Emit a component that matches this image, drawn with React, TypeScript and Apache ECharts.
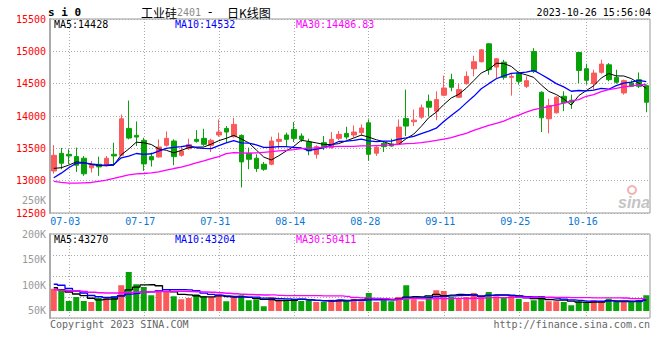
import React, { useEffect, useRef } from 'react';
import * as echarts from 'echarts';

const dates = [
  '06-29', '06-30',
  '07-03', '07-04', '07-05', '07-06', '07-07', '07-10', '07-11', '07-12', '07-13', '07-14',
  '07-17', '07-18', '07-19', '07-20', '07-21', '07-24', '07-25', '07-26', '07-27', '07-28', '07-31',
  '08-01', '08-02', '08-03', '08-04', '08-07', '08-08', '08-09', '08-10', '08-11', '08-14', '08-15',
  '08-16', '08-17', '08-18', '08-21', '08-22', '08-23', '08-24', '08-25', '08-28', '08-29', '08-30', '08-31',
  '09-01', '09-04', '09-05', '09-06', '09-07', '09-08', '09-11', '09-12', '09-13', '09-14', '09-15',
  '09-18', '09-19', '09-20', '09-21', '09-22', '09-25', '09-26', '09-27', '09-28',
  '10-09', '10-10', '10-11', '10-12', '10-13', '10-16', '10-17', '10-18', '10-19', '10-20',
  '10-23', '10-24', '10-25', '10-26',
];
const labelDates = ['07-03', '07-17', '07-31', '08-14', '08-28', '09-11', '09-25', '10-16'];

const opens = [
  13150, 13423, 13408, 13372, 13347, 13198, 13254, 13239, 13408, 13393,
  13808, 13700, 13623, 13372, 13367, 13547, 13613, 13393, 13495, 13639,
  13654, 13547, 13706, 13808, 13680, 13700, 13424, 13347, 13254, 13254,
  13608, 13706, 13793, 13690, 13598, 13408, 13588, 13511, 13654, 13731,
  13706, 13742, 13895, 13424, 13578, 13567, 13578, 13962, 13911, 13982,
  14228, 14075, 14321, 14562, 14290, 14500, 14731, 14839, 15116, 14757,
  14833, 14598, 14664, 14459, 14998, 14367, 13957, 14049, 14305, 14244,
  14982, 14731, 14500, 14675, 14792, 14598, 14357, 14510, 14562, 14469,
];
const closes = [
  13392, 13270, 13382, 13239, 13106, 13239, 13213, 13347, 13382, 13957,
  13659, 13675, 13259, 13321, 13521, 13654, 13372, 13459, 13557, 13608,
  13562, 13623, 13752, 13752, 13870, 13290, 13331, 13188, 13177, 13613,
  13639, 13639, 13654, 13639, 13460, 13526, 13526, 13639, 13716, 13675,
  13752, 13813, 13408, 13516, 13526, 13536, 13829, 13844, 13936, 14126,
  14136, 14254, 14433, 14444, 14408, 14613, 14839, 15023, 14715, 14885,
  14598, 14613, 14536, 14546, 14690, 13972, 14162, 14290, 14203, 14213,
  14705, 14552, 14664, 14803, 14562, 14521, 14546, 14459, 14459, 14213,
];
const lows = [
  13110, 13177, 13254, 13136, 13075, 13126, 13075, 13218, 13229, 13382,
  13639, 13536, 13152, 13218, 13357, 13526, 13239, 13372, 13475, 13588,
  13536, 13444, 13680, 13588, 13665, 12895, 13177, 13136, 13152, 13239,
  13485, 13536, 13598, 13598, 13393, 13342, 13475, 13495, 13629, 13639,
  13665, 13690, 13306, 13383, 13444, 13526, 13567, 13690, 13844, 13957,
  13998, 13936, 14305, 14382, 14280, 14485, 14613, 14828, 14639, 14587,
  14562, 14315, 14485, 14433, 14664, 13752, 13731, 14039, 14075, 14111,
  14510, 14485, 14408, 14654, 14536, 14500, 14331, 14449, 14433, 14059,
];
const highs = [
  13550, 13506, 13485, 13511, 13382, 13305, 13372, 13382, 13587, 14023,
  14239, 13916, 13664, 13434, 13639, 13762, 13639, 13536, 13649, 13782,
  13803, 13649, 13947, 13844, 13972, 13716, 13511, 13408, 13290, 13680,
  13742, 13742, 13906, 13731, 13649, 13547, 13690, 13752, 13767, 13834,
  13854, 13870, 13947, 13547, 13613, 13649, 13947, 14408, 14100, 14177,
  14331, 14382, 14623, 14654, 14500, 14690, 14931, 15034, 15126, 14895,
  14869, 14654, 14690, 14613, 15049, 14382, 14264, 14305, 14382, 14331,
  14982, 14808, 14715, 14869, 14818, 14715, 14562, 14551, 14674, 14485,
];
const ma5 = [
  13190, 13200, 13240, 13290, 13280, 13250, 13235, 13230, 13240, 13400,
  13490, 13595, 13586, 13560, 13490, 13470, 13430, 13468, 13512, 13520,
  13520, 13565, 13618, 13655, 13700, 13645, 13585, 13475, 13365, 13320,
  13385, 13460, 13530, 13625, 13606, 13584, 13561, 13558, 13573, 13616,
  13660, 13705, 13673, 13633, 13603, 13560, 13563, 13650, 13720, 13840,
  13974, 14059, 14177, 14279, 14335, 14430, 14547, 14665, 14720, 14815,
  14812, 14767, 14669, 14636, 14597, 14480, 14381, 14332, 14263, 14168,
  14315, 14393, 14467, 14587, 14657, 14620, 14619, 14578, 14509, 14428,
];
const ma10 = [
  13044, 13116, 13200, 13270, 13275, 13258, 13245, 13240, 13250, 13353,
  13380, 13420, 13408, 13416, 13458, 13499, 13515, 13526, 13544, 13509,
  13499, 13494, 13543, 13586, 13621, 13585, 13581, 13554, 13516, 13517,
  13525, 13526, 13516, 13505, 13464, 13488, 13507, 13552, 13606, 13612,
  13623, 13641, 13616, 13604, 13611, 13612, 13642, 13662, 13684, 13729,
  13767, 13811, 13914, 14007, 14095, 14203, 14304, 14422, 14500, 14576,
  14622, 14658, 14668, 14678, 14706, 14642, 14574, 14501, 14450, 14383,
  14394, 14388, 14401, 14427, 14414, 14469, 14507, 14524, 14550, 14532,
];
const ma30 = [
  12988, 12972, 12962, 12962, 12967, 12972, 12988, 13008, 13034, 13064,
  13090, 13106, 13111, 13121, 13136, 13162, 13188, 13208, 13239, 13275,
  13306, 13342, 13372, 13418, 13434, 13429, 13424, 13429, 13439, 13449,
  13460, 13470, 13480, 13496, 13501, 13506, 13516, 13526, 13531, 13531,
  13531, 13537, 13537, 13542, 13547, 13552, 13562, 13572, 13577, 13587,
  13603, 13623, 13644, 13664, 13700, 13731, 13777, 13818, 13854, 13885,
  13921, 13972, 14013, 14059, 14100, 14121, 14146, 14172, 14198, 14234,
  14254, 14305, 14331, 14377, 14408, 14428, 14449, 14464, 14480, 14487,
];
// volumes, in thousands
const volumesK = [
  89, 83, 40, 56, 40, 36, 52, 53, 59, 103,
  156, 107, 96, 63, 83, 80, 59, 47, 52, 67,
  59, 56, 67, 39, 59, 63, 43, 47, 19, 56,
  45, 45, 49, 40, 43, 36, 36, 45, 45, 43,
  49, 39, 72, 36, 43, 39, 56, 103, 47, 39,
  59, 83, 80, 56, 52, 56, 72, 56, 76, 59,
  56, 63, 49, 36, 43, 59, 39, 39, 36, 23,
  39, 36, 43, 39, 49, 36, 36, 36, 43, 63,
];
const volMa5K = [
  93, 85, 76, 68, 61.6, 51, 44.8, 47.4, 48, 60.6,
  84.6, 95.6, 104.2, 105, 101, 85.8, 76.2, 66.4, 64.2, 61,
  56.8, 56.2, 60.2, 57.6, 56, 56.8, 54.2, 50.2, 46.2, 45.6,
  42, 42.4, 42.8, 47, 44.4, 42.6, 40.8, 40, 41, 41,
  43.6, 44.2, 49.6, 47.8, 47.8, 45.8, 49.2, 55.4, 57.6, 56.8,
  60.8, 66.2, 61.6, 63.4, 66, 65.4, 63.2, 58.4, 62.4, 63.8,
  63.8, 62, 60.6, 52.6, 49.4, 50, 45.2, 43.2, 43.2, 39.2,
  35.2, 34.6, 35.4, 36, 41.2, 40.6, 40.6, 39.2, 40, 43.3,
];
const volMa10K = [
  107, 103, 90, 80, 72, 62, 57, 54, 56, 61.1,
  67.8, 70.2, 75.8, 76.5, 80.8, 85.2, 85.9, 85.3, 84.6, 81,
  71.3, 66.2, 63.3, 60.9, 58.5, 56.8, 55.2, 55.2, 51.9, 50.8,
  49.4, 48.3, 46.5, 46.6, 45, 42.3, 41.6, 41.4, 44, 42.7,
  43.1, 42.5, 44.8, 44.4, 44.4, 44.7, 46.7, 52.5, 52.7, 52.3,
  53.3, 57.7, 58.5, 60.5, 61.4, 63.1, 64.7, 60, 62.9, 64.9,
  64.6, 62.6, 59.5, 57.5, 56.6, 56.9, 53.6, 51.9, 47.9, 44.3,
  42.6, 39.9, 39.3, 39.6, 40.2, 37.9, 37.6, 37.3, 38, 43.2,
];
const volMa30K = [
  85, 83, 81, 80, 78, 75, 73, 72, 72, 73,
  74, 75, 76, 77, 78, 78, 79, 79, 78, 77,
  76, 75, 73, 71, 69, 67, 66, 65, 64, 64.3,
  62.8, 61.6, 61.9, 61.3, 61.4, 61.4, 60.9, 60.6, 60.2, 58.2,
  54.6, 52.3, 51.5, 50.6, 49.3, 47.9, 47.8, 49.7, 49.5, 48.6,
  48.6, 49.5, 49.9, 50.5, 50.3, 50, 51, 51.3, 53.2, 53.3,
  53.7, 54.3, 54.3, 54.1, 54.1, 54.9, 55, 54.8, 54.5, 53.8,
  53.5, 53.4, 52.4, 52.5, 52.7, 52.6, 52, 49.7, 49.6, 50.4,
];
const volTickValues = [50000, 100000, 150000, 200000];
const extraVolLabel = '250K';

const titleCode = 's i 0';
const titleName = '工业硅';
const titleContract = '2401';
const titleKind = '日K线图';
const timestamp = '2023-10-26 15:56:04';
const priceLegend = ['MA5:14428', 'MA10:14532', 'MA30:14486.83'];
const volLegend = ['MA5:43270', 'MA10:43204', 'MA30:50411'];
const footLeft = 'Copyright 2023 SINA.COM';
const footRight = 'http://finance.sina.com.cn';

const UP = '#fa5a5a';
const DOWN = '#08a208';
const MONO = '"DejaVu Sans Mono", monospace';
const GRIDC = '#aaaaaa';

export default function App() {
  const ref = useRef<HTMLDivElement>(null);
  useEffect(() => {
    document.body.style.margin = '0';
    const chart = echarts.init(ref.current!, null, { renderer: 'svg' });
    const showIdx = (i: number) => labelDates.includes(dates[i]);
    const candleData = dates.map((_, i) => [opens[i], closes[i], lows[i], highs[i]]);
    const volData = volumesK.map((v, i) => ({
      value: v * 1000,
      itemStyle: { color: closes[i] >= opens[i] ? UP : DOWN },
    }));
    const k = (a: number[]) => a.map((v) => v * 1000);
    const dotted = { color: GRIDC, type: [1, 2] as any, width: 1 };
    const lineS = (name: string, data: number[], color: string, w: number, xi: number, step?: any) => ({
      name, type: 'line', data, xAxisIndex: xi, yAxisIndex: xi, symbol: 'none', step: step || false,
      lineStyle: { color, width: w }, itemStyle: { color }, silent: true,
    });
    const legendText = (x: number, y: number, text: string, fill: string) => ({
      type: 'text', x, y, silent: true,
      style: { text, font: `10px ${MONO}`, fill, verticalAlign: 'middle' },
    });
    const legendColors = ['#000000', '#0000ff', '#ff00ff'];
    const legendX = [54, 175, 296];

    chart.setOption({
      animation: false,
      backgroundColor: '#ffffff',
      grid: [
        { left: 50, right: 10, top: 19, height: 194, show: true, borderColor: '#999', borderWidth: 1, outerBoundsMode: 'none' },
        { left: 50, right: 10, top: 234, height: 84, show: true, borderColor: '#999', borderWidth: 1, outerBoundsMode: 'none' },
      ],
      xAxis: [
        {
          type: 'category', gridIndex: 0, data: dates, boundaryGap: true,
          axisLine: { show: false }, axisTick: { show: false },
          axisLabel: { interval: (i: number) => showIdx(i), color: '#0a78d2', fontFamily: MONO, fontSize: 10, margin: 3, padding: [0, 7, 0, 0] },
          splitLine: { show: true, interval: (i: number) => showIdx(i), alignWithLabel: true, lineStyle: dotted },
        },
        {
          type: 'category', gridIndex: 1, data: dates, boundaryGap: true,
          axisLine: { show: false }, axisTick: { show: false }, axisLabel: { show: false },
          splitLine: { show: true, interval: (i: number) => showIdx(i), alignWithLabel: true, lineStyle: dotted },
        },
      ],
      yAxis: [
        {
          type: 'value', gridIndex: 0, min: 12500, max: 15500, interval: 500, position: 'left',
          axisLine: { show: true, lineStyle: { color: '#aaa', width: 2 } }, axisTick: { show: false },
          axisLabel: { color: '#ff0000', fontFamily: MONO, fontSize: 10, margin: 4, formatter: (v: number) => String(v) },
          splitLine: { show: true, lineStyle: dotted },
        },
        {
          type: 'value', gridIndex: 1, min: -28000, max: 308000, interval: 84000, position: 'left',
          axisLine: { show: true, lineStyle: { color: '#aaa', width: 2 } }, axisTick: { show: false },
          axisLabel: { show: false },
          splitLine: { show: true, lineStyle: dotted },
        },
        {
          type: 'value', gridIndex: 1, min: 35294, max: 200000, position: 'left',
          axisLine: { show: false }, axisTick: { show: false }, splitLine: { show: false },
          axisLabel: {
            customValues: volTickValues, showMinLabel: true, showMaxLabel: true,
            formatter: (v: number) => `${Math.round(v / 1000)}K`,
            color: '#999', fontFamily: MONO, fontSize: 10, margin: 4,
          },
        },
      ],
      series: [
        {
          type: 'candlestick', xAxisIndex: 0, yAxisIndex: 0, data: candleData, barWidth: 5,
          itemStyle: { color: UP, color0: DOWN, borderColor: UP, borderColor0: DOWN, borderWidth: 1 },
          silent: true,
        },
        lineS('MA5', ma5, '#000000', 1, 0),
        lineS('MA10', ma10, '#0000ff', 1.3, 0),
        lineS('MA30', ma30, '#ff00ff', 1.3, 0),
        {
          type: 'bar', xAxisIndex: 1, yAxisIndex: 1, data: volData, barWidth: 6, silent: true,
        },
        lineS('VMA5', k(volMa5K), '#000000', 1.3, 1, 'middle'),
        lineS('VMA10', k(volMa10K), '#0000ff', 1.3, 1, 'middle'),
        lineS('VMA30', k(volMa30K), '#ff00ff', 1.3, 1, 'middle'),
      ],
      graphic: [
        { type: 'text', x: 48, y: 12, silent: true, style: { text: titleCode, font: `bold 11px ${MONO}`, fill: '#000', verticalAlign: 'middle' } },
        { type: 'text', x: 141, y: 12, silent: true, style: { text: titleName, font: '12px "Noto Sans CJK SC"', fill: '#000', verticalAlign: 'middle' } },
        { type: 'text', x: 177, y: 12, silent: true, style: { text: titleContract, font: `10px ${MONO}`, fill: '#8a8a8a', verticalAlign: 'middle' } },
        { type: 'text', x: 208, y: 12, silent: true, style: { text: '-', font: '12px "DejaVu Sans"', fill: '#000', verticalAlign: 'middle' } },
        { type: 'text', x: 227, y: 12, silent: true, style: { text: titleKind, font: '12px "Noto Sans CJK SC"', fill: '#000', verticalAlign: 'middle' } },
        { type: 'text', x: 651, y: 12, silent: true, style: { text: timestamp, font: `10px ${MONO}`, fill: '#000', align: 'right', verticalAlign: 'middle' } },
        ...priceLegend.map((t, i) => legendText(legendX[i], 24, t, legendColors[i])),
        ...volLegend.map((t, i) => legendText(legendX[i], 239, t, legendColors[i])),
        { type: 'text', x: 46, y: 200, silent: true, style: { text: extraVolLabel, font: `10px ${MONO}`, fill: '#999', align: 'right', verticalAlign: 'middle' } },
        { type: 'text', x: 50, y: 324, silent: true, style: { text: footLeft, font: `10px ${MONO}`, fill: '#666', verticalAlign: 'middle' } },
        { type: 'text', x: 650, y: 324, silent: true, style: { text: footRight, font: `10px ${MONO}`, fill: '#666', align: 'right', verticalAlign: 'middle' } },
        { type: 'ring', silent: true, shape: { cx: 632, cy: 190, r: 5, r0: 3 }, style: { fill: '#f2b4b4' } },
        { type: 'text', x: 634, y: 202, silent: true, style: { text: 'sina', font: 'italic bold 16px "Liberation Sans"', fill: '#c4c4c4', align: 'center', verticalAlign: 'middle' } },
      ],
    });
    return () => chart.dispose();
  }, []);
  return <div ref={ref} style={{ width: 660, height: 360 }} />;
}
